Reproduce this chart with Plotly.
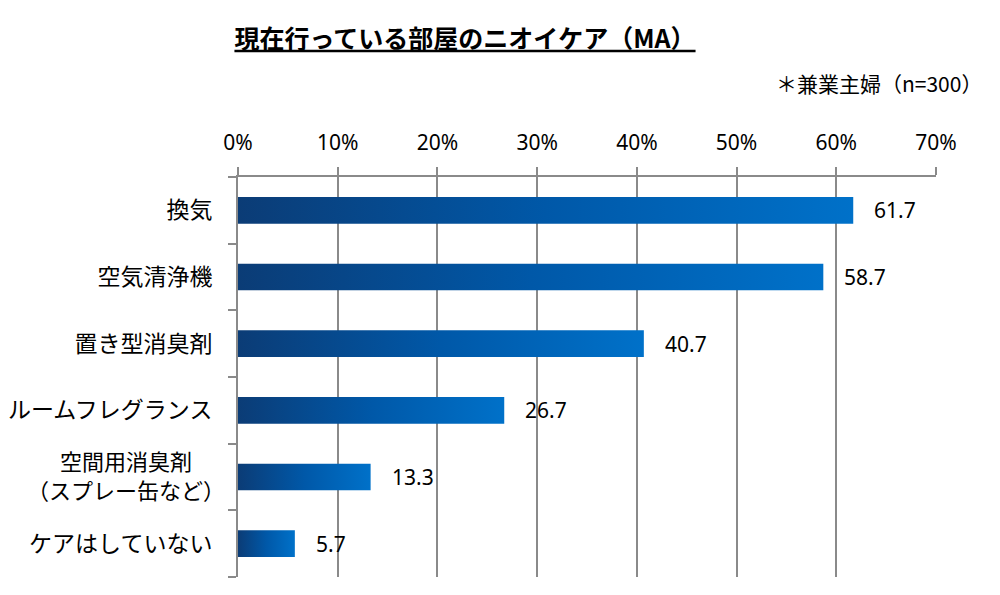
import plotly.graph_objects as go

# ---- data ----
categories = ["換気", "空気清浄機", "置き型消臭剤", "ルームフレグランス",
              "空間用消臭剤<br>（スプレー缶など）", "ケアはしていない"]
values = [61.7, 58.7, 40.7, 26.7, 13.3, 5.7]
x_tick_values = [0, 10, 20, 30, 40, 50, 60, 70]
x_tick_labels = ["0%", "10%", "20%", "30%", "40%", "50%", "60%", "70%"]
title_text = "現在行っている部屋のニオイケア（MA）"
note_text = "＊兼業主婦（n=300）"

# ---- style ----
FONT = "Noto Sans CJK JP"
NUM_FONT = "Noto Sans"
GREY = "#8a8a8a"
BAR_HALF = 0.2
gradient = [[0.0, "#0b3c76"], [0.5, "#0058a8"], [1.0, "#0071c9"]]

# page body has an 8px default margin; figure sized to fill the rest of the window
OFF = 8
W, H = 1000 - OFF, 595 - OFF
L, R, T, B = 238 - OFF, 1000 - 936, 177 - OFF, 595 - 577

fig = go.Figure()

for i, (cat, v) in enumerate(zip(categories, values)):
    fig.add_trace(go.Scatter(
        x=[0, v, v, 0, 0],
        y=[i - BAR_HALF, i - BAR_HALF, i + BAR_HALF, i + BAR_HALF, i - BAR_HALF],
        mode="lines", fill="toself",
        line=dict(width=0, color="#0071c9"),
        fillgradient=dict(type="horizontal", colorscale=gradient),
        hoverinfo="skip", showlegend=False,
    ))

# value labels
for i, v in enumerate(values):
    fig.add_annotation(x=v, y=i, xref="x", yref="y", text=f"{v:.1f}",
                       showarrow=False, xanchor="left", yanchor="middle",
                       xshift=19, font=dict(family=NUM_FONT, size=21, color="#000"))

# category labels: single-line ones on the axis, multi-line ones as a centred annotation
tick_vals, tick_text = [], []
for i, cat in enumerate(categories):
    if "<br>" in cat:
        fig.add_annotation(x=0, y=i, xref="x", yref="y", text=cat,
                           showarrow=False, xanchor="center", yanchor="middle",
                           align="center", xshift=-(238 - 126), yshift=3,
                           font=dict(family=FONT, size=22, color="#000"))
    else:
        tick_vals.append(i)
        tick_text.append(cat)

plot_w = W - L - R
plot_h = H - T - B

# note (top-right)
fig.add_annotation(x=(984 - 238) / plot_w, y=(577 - 83) / plot_h,
                   xref="paper", yref="paper", text=note_text, showarrow=False,
                   xanchor="right", yanchor="middle",
                   font=dict(family=FONT, size=21, color="#000"))

fig.update_layout(
    width=W, height=H,
    margin=dict(l=L, r=R, t=T, b=B, autoexpand=False),
    paper_bgcolor="white", plot_bgcolor="white",
    font=dict(family=FONT, color="#000"),
    title=dict(text=f"<b><u>{title_text}</u></b>", x=(465 - OFF) / W, xanchor="center",
               y=1 - (39 - OFF) / H, yanchor="middle", xref="container", yref="container",
               font=dict(family=FONT, size=25, color="#000")),
    showlegend=False,
)

fig.update_xaxes(
    side="top", range=[0, 70], tickvals=x_tick_values, ticktext=x_tick_labels,
    ticks="outside", ticklen=8, tickwidth=2, tickcolor=GREY,
    showline=True, linecolor=GREY, linewidth=2,
    showgrid=True, gridcolor=GREY, gridwidth=2, zeroline=False,
    tickfont=dict(family=NUM_FONT, size=21, color="#000"),
    ticklabelstandoff=9, fixedrange=True, automargin=False,
)

fig.update_yaxes(
    range=[len(categories) - 0.5, -0.5],
    tickvals=tick_vals, ticktext=tick_text,
    ticks="", showgrid=False, zeroline=False,
    showline=True, linecolor=GREY, linewidth=2,
    minor=dict(tickvals=[k - 0.5 for k in range(len(categories) + 1)],
               ticks="outside", ticklen=8, tickwidth=2, tickcolor=GREY, showgrid=False),
    tickfont=dict(family=FONT, size=23, color="#000"),
    ticklabelstandoff=19, fixedrange=True, automargin=False,
)

fig.write_html("out.html")
